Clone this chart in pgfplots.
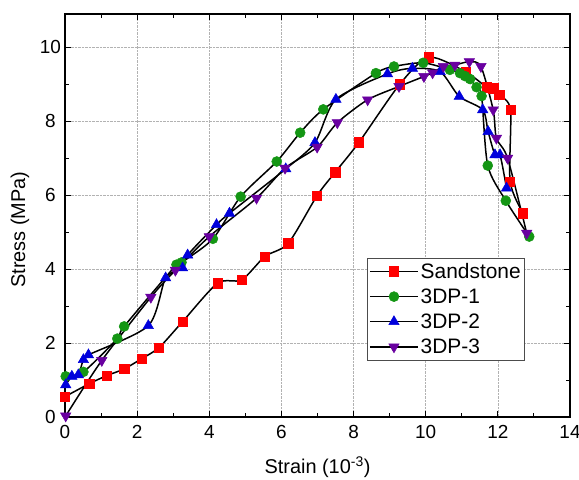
\documentclass[border=0pt]{standalone}
\usepackage{fontspec}
\setmainfont{Liberation Sans}
\usepackage{pgfplots}
\pgfplotsset{compat=1.18}
\definecolor{cred}{RGB}{255,0,0}
\definecolor{cgreen}{RGB}{20,150,20}
\definecolor{cblue}{RGB}{0,0,220}
\definecolor{cpurple}{RGB}{105,0,160}
\begin{document}
\begin{tikzpicture}
\useasboundingbox (0,0) rectangle (579bp,480bp);
\begin{axis}[
  at={(65bp,63bp)}, anchor=south west,
  scale only axis, width=505bp, height=403bp,
  xmin=0, xmax=14, ymin=0, ymax=10.9,
  xtick={0,2,...,14}, ytick={0,2,...,10},
  minor x tick num=1, minor y tick num=1,
  tick align=inside, major tick length=6bp, minor tick length=4bp,
  xtick pos=both, ytick pos=both,
  axis line style={line width=1.3bp},
  every tick/.style={black, line width=1bp},
  grid=major, major grid style={densely dotted, gray!60, line width=0.7bp},
  /pgf/number format/assume math mode=true,
  tick label style={font=\fontsize{19}{23}\selectfont},
  xticklabel style={yshift=-5bp},
  yticklabel style={anchor=center, xshift=-14.5bp},
  xlabel={Strain (10\textsuperscript{-3})},
  ylabel={Stress (MPa)},
  every axis x label/.style={at={(axis description cs:0.5,0)}, anchor=center, yshift=-50bp, font=\fontsize{20}{24}\selectfont},
  every axis y label/.style={at={(axis description cs:0,0.465)}, anchor=center, rotate=90, yshift=45bp, font=\fontsize{20}{24}\selectfont},
  legend style={at={(axis cs:8.37,4.31)}, anchor=north west, draw=black!70, line width=0.6bp,
    font=\fontsize{21}{25}\selectfont, row sep=5bp, inner xsep=2bp, inner ysep=3bp},
  legend cell align=left,
  legend image code/.code={\draw[#1, sharp plot, mark repeat=2, mark phase=2] plot coordinates {(0bp,0bp) (24bp,0bp) (48bp,0bp)};},
]
\addplot[black, line width=1.5bp, smooth, tension=0.45, mark=square*, mark size=4.6bp, mark options={draw=cred, fill=cred, line width=0.5bp}] coordinates {
(0,0.55) (0.67,0.90) (1.16,1.12) (1.64,1.30) (2.13,1.58) (2.61,1.88) (3.26,2.58) (4.23,3.62) (4.90,3.71) (5.54,4.34) (6.19,4.70) (6.99,5.99) (7.49,6.62) (8.15,7.43) (9.28,9.0) (10.09,9.73) (11.1,9.34) (11.69,8.92) (11.87,8.89) (12.04,8.71) (12.35,8.31) (12.34,6.37) (12.70,5.51)
};
\addlegendentry{Sandstone}
\addplot[black, line width=1.5bp, smooth, tension=0.45, mark=*, mark size=5bp, mark options={draw=cgreen, fill=cgreen, line width=0.5bp}] coordinates {
(0.02,1.10) (0.51,1.22) (1.45,2.12) (1.64,2.45) (3.09,4.12) (3.23,4.18) (4.10,4.82) (4.87,5.96) (5.87,6.91) (6.52,7.69) (7.16,8.32) (8.62,9.30) (9.12,9.48) (9.93,9.58) (10.67,9.39) (10.95,9.30) (11.09,9.22) (11.23,9.14) (11.41,8.92) (11.55,8.68) (11.72,6.80) (12.22,5.85) (12.87,4.88)
};
\addlegendentry{3DP-1}
\addplot[black, line width=1.5bp, smooth, tension=0.45, mark=triangle*, mark size=6bp, mark options={draw=cblue, fill=cblue, line width=0.5bp}] coordinates {
(0.02,0.87) (0.19,1.10) (0.37,1.14) (0.51,1.55) (0.65,1.68) (2.31,2.47) (2.79,3.76) (3.26,4.03) (3.40,4.38) (4.20,5.20) (4.56,5.51) (6.12,6.71) (6.93,7.42) (7.51,8.59) (8.94,9.28) (9.63,9.43) (10.40,9.34) (10.93,8.67) (11.58,8.31) (11.73,7.72) (11.92,7.09) (12.06,7.09) (12.24,6.19)
};
\addlegendentry{3DP-2}
\addplot[black, line width=1.5bp, smooth, tension=0.45, mark=triangle*, mark size=6bp, mark options={draw=cpurple, fill=cpurple, rotate=180, line width=0.5bp}] coordinates {
(0.02,0.03) (1.02,1.53) (2.38,3.24) (3.06,3.97) (4.0,4.88) (5.31,5.92) (6.10,6.73) (6.99,7.30) (7.55,7.96) (8.39,8.58) (9.26,8.94) (9.95,9.21) (10.19,9.31) (10.49,9.48) (10.81,9.52) (11.21,9.61) (11.53,9.48) (11.87,8.31) (11.96,7.54) (12.27,7.00) (12.80,4.97)
};
\addlegendentry{3DP-3}
\end{axis}
\end{tikzpicture}
\end{document}
